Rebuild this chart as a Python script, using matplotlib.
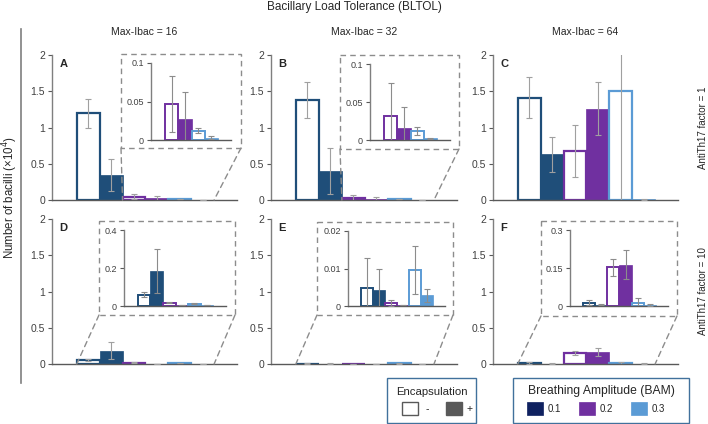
import matplotlib
matplotlib.use("Agg")
import matplotlib.pyplot as plt
from matplotlib.patches import Rectangle, ConnectionPatch
import numpy as np

plt.rcParams['font.family'] = ['Liberation Sans', 'DejaVu Sans']

W, H = 708, 424

# bar order: BAM 0.1 (-,+), BAM 0.2 (-,+), BAM 0.3 (-,+)
bam_colors = ['#1f4e79', '#1f4e79', '#7030a0', '#7030a0', '#5b9bd5', '#5b9bd5']
encaps = ['-', '+', '-', '+', '-', '+']

# panel values (x10^4) and error bars
val_A = [1.20, 0.35, 0.047, 0.027, 0.012, 0.003]
err_A = [0.20, 0.22, 0.036, 0.035, 0.003, 0.002]
val_B = [1.38, 0.40, 0.031, 0.016, 0.012, 0.002]
err_B = [0.25, 0.32, 0.044, 0.028, 0.005, 0.001]
val_C = [1.41, 0.63, 0.68, 1.26, 1.50, 0.01]
err_C = [0.28, 0.24, 0.36, 0.37, 1.60, 0.01]
val_D = [0.060, 0.185, 0.018, 0.004, 0.012, 0.004]
err_D = [0.012, 0.115, 0.003, 0.001, 0.004, 0.001]
val_E = [0.0048, 0.0043, 0.0007, 0.0003, 0.0097, 0.0029]
err_E = [0.0080, 0.0055, 0.0008, 0.0001, 0.0064, 0.0017]
val_F = [0.013, 0.005, 0.152, 0.163, 0.012, 0.004]
err_F = [0.010, 0.003, 0.033, 0.057, 0.020, 0.004]

col_titles = ['Max-Ibac = 16', 'Max-Ibac = 32', 'Max-Ibac = 64']
row_titles = ['AntiTh17 factor = 1', 'AntiTh17 factor = 10']
letters = ['A', 'B', 'C', 'D', 'E', 'F']

main_ticks = [0, 0.5, 1, 1.5, 2]
main_ticklabels = ['0', '0.5', '1', '1.5', '2']

# inset settings: first bar shown, y ticks, tick labels
inset_A = dict(first=2, ticks=[0, 0.05, 0.1], labels=['0', '0.05', '0.1'])
inset_B = dict(first=2, ticks=[0, 0.05, 0.1], labels=['0', '0.05', '0.1'])
inset_D = dict(first=0, ticks=[0, 0.2, 0.4], labels=['0', '0.2', '0.4'])
inset_E = dict(first=0, ticks=[0, 0.01, 0.02], labels=['0', '0.01', '0.02'])
inset_F = dict(first=0, ticks=[0, 0.15, 0.3], labels=['0', '0.15', '0.3'])

fig = plt.figure(figsize=(W / 100, H / 100), dpi=100)


def px_axes(x0, y0, x1, y1):
    return fig.add_axes([x0 / W, 1 - y1 / H, (x1 - x0) / W, (y1 - y0) / H])


def draw_bars(ax, vals, errs, first=0, lw=1.6, ecol='#a0a0a0'):
    x = np.arange(first, 6)
    for i in x:
        c = bam_colors[i]
        if encaps[i] == '-':
            ax.bar(i, vals[i], width=1, facecolor='white', edgecolor=c, linewidth=lw, zorder=2)
        else:
            ax.bar(i, vals[i], width=1, facecolor=c, edgecolor=c, linewidth=0.5, zorder=2)
        ax.errorbar(i, vals[i], yerr=errs[i], color=ecol, lw=0.8, capsize=2,
                    capthick=0.8, zorder=3)
    ax.set_xlim(first - 0.5 - 1.08, 5.5 + 1.0)


def style_axes(ax, fs):
    for s in ['top', 'right']:
        ax.spines[s].set_visible(False)
    ax.spines['left'].set_color('#7f7f7f')
    ax.spines['bottom'].set_color('#595959')
    ax.spines['left'].set_linewidth(1.0)
    ax.spines['bottom'].set_linewidth(1.0)
    ax.set_xticks([])
    ax.tick_params(axis='y', length=3, width=0.8, color='#595959', labelsize=fs,
                   labelcolor='#404040', pad=2)
    ax.patch.set_alpha(0)


main_x = [(52, 237), (271, 457), (493, 678)]
main_y = [(55, 200), (219, 364)]
vals = [val_A, val_B, val_C, val_D, val_E, val_F]
errs = [err_A, err_B, err_C, err_D, err_E, err_F]
insets = [inset_A, inset_B, None, inset_D, inset_E, inset_F]
inset_pos = [(151, 63, 231, 140), (370, 64, 450, 140), None,
             (124, 230, 226, 306), (348, 231, 445, 306), (570, 230, 668, 306)]
box_pos = [(121, 54, 241, 148), (340, 55, 459, 149), None,
           (99, 221, 235, 315), (317, 222, 453, 315), (541, 221, 677, 316)]

ov = fig.add_axes([0, 0, 1, 1])
ov.set_xlim(0, W)
ov.set_ylim(H, 0)
ov.axis('off')
ov.set_zorder(5)

for k in range(6):
    r, c = divmod(k, 3)
    x0, x1 = main_x[c]
    y0, y1 = main_y[r]
    ax = px_axes(x0, y0, x1, y1)
    draw_bars(ax, vals[k], errs[k])
    ax.set_ylim(0, 2)
    ax.set_yticks(main_ticks)
    ax.set_yticklabels(main_ticklabels)
    style_axes(ax, 7.5)
    ax.text(0.04, 0.97, letters[k], transform=ax.transAxes, fontsize=8,
            fontweight='bold', va='top', ha='left', color='#262626')
    if r == 0:
        ov.text((x0 + x1) / 2, 32, col_titles[c], fontsize=7.5, ha='center',
                va='center', color='#262626')

    ins = insets[k]
    if ins is None:
        continue
    ix0, iy0, ix1, iy1 = inset_pos[k]
    iax = px_axes(ix0, iy0, ix1, iy1)
    iax.set_zorder(6)
    draw_bars(iax, vals[k], errs[k], first=ins['first'], lw=1.4, ecol='#8c8c8c')
    iax.set_ylim(0, ins['ticks'][-1])
    iax.set_yticks(ins['ticks'])
    iax.set_yticklabels(ins['labels'])
    style_axes(iax, 6.5)

    bx0, by0, bx1, by1 = box_pos[k]
    ov.add_patch(Rectangle((bx0, by0), bx1 - bx0, by1 - by0, fill=False,
                           edgecolor='#8c8c8c', lw=1.0, linestyle=(0, (4, 3))))
    left_edge = ins['first'] - 0.5
    for bx, xe in [(bx0, left_edge), (bx1, 5.5)]:
        con = ConnectionPatch(xyA=(bx, by1), coordsA=ov.transData,
                              xyB=(xe, 0), coordsB=ax.transData,
                              color='#8c8c8c', lw=1.0, linestyle=(0, (4, 3)))
        fig.add_artist(con)

# titles and labels
ov.text(354, 7, 'Bacillary Load Tolerance (BLTOL)', fontsize=8.5, ha='center',
        va='center', color='#262626')
ov.text(10, 198, 'Number of bacilli (×10$^4$)', fontsize=8.3, rotation=90,
        ha='center', va='center', color='#262626')
ov.plot([21, 21], [29, 383], color='#7f7f7f', lw=1.2)
for r in range(2):
    ov.text(703, sum(main_y[r]) / 2, row_titles[r], fontsize=7, rotation=90,
            ha='center', va='center', color='#262626')

# legends
box_col = '#41719c'
ov.add_patch(Rectangle((387, 378), 89, 45, fill=False, edgecolor=box_col, lw=1.0))
ov.text(432, 392, 'Encapsulation', fontsize=8.2, ha='center', va='center', color='#262626')
ov.add_patch(Rectangle((402, 402), 16, 13, facecolor='white', edgecolor='#595959', lw=1.0))
ov.text(427, 409, '-', fontsize=7.5, ha='center', va='center', color='#262626')
ov.add_patch(Rectangle((446, 402), 16, 13, facecolor='#595959', edgecolor='#595959', lw=1.0))
ov.text(470, 409, '+', fontsize=7.5, ha='center', va='center', color='#262626')

legend_colors = ['#0f2160', '#7030a0', '#5b9bd5']
legend_labels = ['0.1', '0.2', '0.3']
ov.add_patch(Rectangle((513, 378), 176, 45, fill=False, edgecolor=box_col, lw=1.0))
ov.text(601, 391, 'Breathing Amplitude (BAM)', fontsize=8.7, ha='center', va='center',
        color='#262626')
for i, (lc, ll) in enumerate(zip(legend_colors, legend_labels)):
    sx = 527 + i * 52
    ov.add_patch(Rectangle((sx, 402), 16, 13, facecolor=lc, edgecolor=lc, lw=0.5))
    ov.text(sx + 21, 409, ll, fontsize=7, ha='left', va='center', color='#262626')

fig.savefig('out.png', dpi=100)
